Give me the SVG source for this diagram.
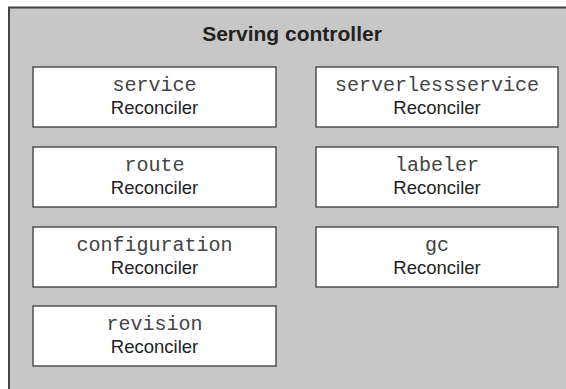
<svg xmlns="http://www.w3.org/2000/svg" width="566" height="389" viewBox="0 0 566 389">
  <style>
    .frame { fill: #c6c7c6; stroke: #444444; stroke-width: 2; }
    .box { fill: #ffffff; stroke: #3a3a3a; stroke-width: 1.3; }
    .title { font-family: "Liberation Sans", Arial, sans-serif; font-weight: bold; font-size: 21px; fill: #222222; text-anchor: middle; }
    .code { font-family: "Courier New", "Liberation Mono", monospace; font-size: 20px; fill: #444444; text-anchor: middle; }
    .label { font-family: "Liberation Sans", Arial, sans-serif; font-size: 18.5px; fill: #222222; text-anchor: middle; }
  </style>

  <!-- Controller container (runs off the right and bottom edges) -->
  <g id="serving-controller">
    <rect class="frame" x="9" y="7.5" width="600" height="400"/>
    <text class="title" x="292" y="41">Serving controller</text>
  </g>

  <!-- Left column of reconcilers -->
  <g id="service-reconciler">
    <rect class="box" x="33" y="67" width="243" height="60"/>
    <text class="code" x="154.5" y="91">service</text>
    <text class="label" x="154.5" y="113.5">Reconciler</text>
  </g>
  <g id="route-reconciler">
    <rect class="box" x="33" y="147" width="243" height="60"/>
    <text class="code" x="154.5" y="171">route</text>
    <text class="label" x="154.5" y="193.5">Reconciler</text>
  </g>
  <g id="configuration-reconciler">
    <rect class="box" x="33" y="227" width="243" height="60"/>
    <text class="code" x="154.5" y="251">configuration</text>
    <text class="label" x="154.5" y="273.5">Reconciler</text>
  </g>
  <g id="revision-reconciler">
    <rect class="box" x="33" y="306" width="243" height="60"/>
    <text class="code" x="154.5" y="330">revision</text>
    <text class="label" x="154.5" y="352.5">Reconciler</text>
  </g>

  <!-- Right column of reconcilers -->
  <g id="serverlessservice-reconciler">
    <rect class="box" x="316" y="67" width="242" height="60"/>
    <text class="code" x="437" y="91">serverlessservice</text>
    <text class="label" x="437" y="113.5">Reconciler</text>
  </g>
  <g id="labeler-reconciler">
    <rect class="box" x="316" y="147" width="242" height="60"/>
    <text class="code" x="437" y="171">labeler</text>
    <text class="label" x="437" y="193.5">Reconciler</text>
  </g>
  <g id="gc-reconciler">
    <rect class="box" x="316" y="227" width="242" height="60"/>
    <text class="code" x="437" y="251">gc</text>
    <text class="label" x="437" y="273.5">Reconciler</text>
  </g>

  <!-- No connectors in this diagram -->
  <g id="connectors"/>
</svg>
